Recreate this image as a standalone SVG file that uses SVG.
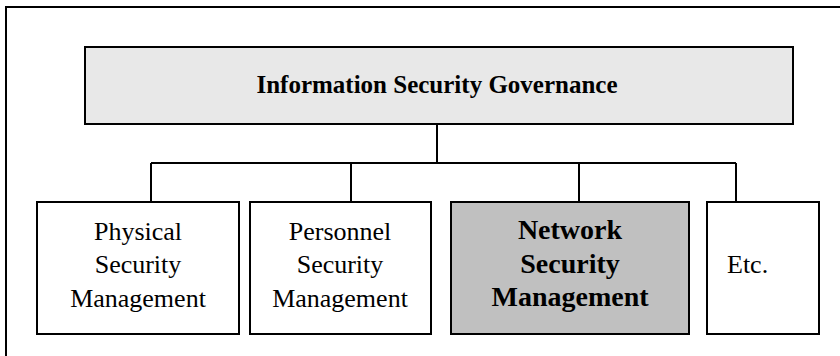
<svg xmlns="http://www.w3.org/2000/svg" width="840" height="356" viewBox="0 0 840 356">
<style>
.box{stroke:#000;stroke-width:2}
.w{fill:#fff}
.t{font-family:"Liberation Serif","Times New Roman",serif;fill:#000}
.r{font-size:26px}
.b{font-weight:bold}
.c{text-anchor:middle}
.ln{stroke:#000;stroke-width:2;fill:none}
</style>
<rect x="0" y="0" width="840" height="356" fill="#fff"/>
<rect x="6" y="7" width="850" height="360" fill="none" stroke="#000" stroke-width="2"/>
<g id="connectors">
<path class="ln" d="M437 124V163M151 163H736M151 163V202M351 163V202M579 163V202M736 163V202"/>
</g>
<g id="governance">
<rect class="box" x="85" y="47" width="708" height="77" fill="#e8e8e8"/>
<text class="t b c" x="437" y="93" font-size="25">Information Security Governance</text>
</g>
<g id="physical">
<rect class="box w" x="37" y="202" width="202" height="132"/>
<text class="t r c" x="138" y="240">Physical</text>
<text class="t r c" x="138" y="273">Security</text>
<text class="t r c" x="138" y="307">Management</text>
</g>
<g id="personnel">
<rect class="box w" x="250" y="202" width="181" height="132"/>
<text class="t r c" x="340" y="240">Personnel</text>
<text class="t r c" x="340" y="273">Security</text>
<text class="t r c" x="340" y="307">Management</text>
</g>
<g id="network">
<rect class="box" x="451" y="202" width="238" height="132" fill="#c0c0c0"/>
<text class="t b c" x="570" y="239" font-size="28">Network</text>
<text class="t b c" x="570" y="273" font-size="28">Security</text>
<text class="t b c" x="570" y="306" font-size="28">Management</text>
</g>
<g id="etc">
<rect class="box w" x="707" y="202" width="112" height="132"/>
<text class="t r" x="727" y="273">Etc.</text>
</g>
</svg>
